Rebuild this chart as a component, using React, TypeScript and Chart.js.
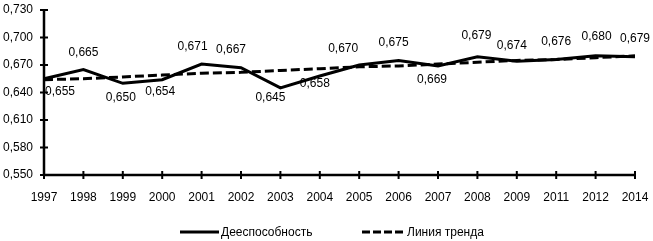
import React, { useEffect, useRef } from "react";
import { Chart, registerables } from "chart.js";

Chart.register(...registerables);

const years = ["1997", "1998", "1999", "2000", "2001", "2002", "2003", "2004", "2005", "2006", "2007", "2008", "2009", "2011", "2012", "2014"];
const capacity = [0.655, 0.665, 0.650, 0.654, 0.671, 0.667, 0.645, 0.658, 0.670, 0.675, 0.669, 0.679, 0.674, 0.676, 0.680, 0.679];
const trend = [0.654, 0.655, 0.657, 0.659, 0.661, 0.662, 0.664, 0.666, 0.668, 0.669, 0.671, 0.673, 0.675, 0.676, 0.678, 0.680];
const yTicks = [0.55, 0.58, 0.61, 0.64, 0.67, 0.70, 0.73];
const seriesNames = ["Дееспособность", "Линия тренда"];

// label offsets (style only): [dx, dy] relative to point
const labelOffsets: [number, number][] = [
  [16, 13], [0, -17], [-2, 14], [-2, 12], [-9, -17], [-10, -18], [-10, 10], [-5, 8],
  [-16, -16], [-5, -18], [-6, 14], [-1, -21], [-5, -16], [0, -18], [1, -19], [0, -18],
];

const FONT = "'Liberation Sans', Arial, sans-serif";
const fmt = (v: number) => v.toFixed(3).replace(".", ",");

const axesPlugin = {
  id: "axesCross",
  afterDatasetsDraw(chart: any) {
    const ctx = chart.ctx;
    const { left, right, top, bottom } = chart.chartArea;
    const xs = chart.scales.x;
    const ys = chart.scales.y;
    ctx.save();
    ctx.strokeStyle = "#000";
    ctx.lineWidth = 2.5;
    ctx.beginPath();
    ctx.moveTo(left, top);
    ctx.lineTo(left, bottom);
    ctx.moveTo(left, bottom);
    ctx.lineTo(right, bottom);
    ctx.stroke();
    ctx.lineWidth = 2;
    ctx.beginPath();
    ys.ticks.forEach((_t: any, i: number) => {
      const y = ys.getPixelForTick(i);
      ctx.moveTo(left - 4, y);
      ctx.lineTo(left + 4, y);
    });
    xs.ticks.forEach((_t: any, i: number) => {
      const x = xs.getPixelForTick(i);
      ctx.moveTo(x, bottom - 4);
      ctx.lineTo(x, bottom + 4);
    });
    ctx.stroke();

    // data labels
    const meta = chart.getDatasetMeta(0);
    ctx.fillStyle = "#000";
    ctx.font = `12px ${FONT}`;
    ctx.textAlign = "center";
    ctx.textBaseline = "middle";
    meta.data.forEach((pt: any, i: number) => {
      const [dx, dy] = labelOffsets[i] || [0, -16];
      ctx.fillText(fmt(capacity[i]), pt.x + dx, pt.y + dy);
    });

    // legend
    const ly = 232;
    ctx.lineWidth = 3;
    ctx.strokeStyle = "#000";
    ctx.beginPath();
    ctx.setLineDash([]);
    ctx.moveTo(180, ly);
    ctx.lineTo(219, ly);
    ctx.stroke();
    ctx.beginPath();
    ctx.setLineDash([8, 3]);
    ctx.moveTo(362, ly);
    ctx.lineTo(405, ly);
    ctx.stroke();
    ctx.setLineDash([]);
    ctx.textAlign = "left";
    ctx.fillText(seriesNames[0], 221, ly + 1);
    ctx.fillText(seriesNames[1], 407, ly + 1);
    ctx.restore();
  },
};

export default function App() {
  const ref = useRef<HTMLCanvasElement>(null);
  useEffect(() => {
    if (!ref.current) return;
    const chart = new Chart(ref.current, {
      type: "line",
      data: {
        labels: years,
        datasets: [
          {
            label: seriesNames[0],
            data: capacity,
            borderColor: "#000",
            borderWidth: 3,
            pointRadius: 0,
            tension: 0,
            fill: false,
          },
          {
            label: seriesNames[1],
            data: trend,
            borderColor: "#000",
            borderWidth: 3,
            borderDash: [9, 4],
            pointRadius: 0,
            tension: 0,
            fill: false,
          },
        ],
      },
      options: {
        responsive: false,
        animation: false,
        devicePixelRatio: 1,
        layout: { padding: { left: 0, right: 18, top: 10, bottom: 36 } },
        plugins: { legend: { display: false }, tooltip: { enabled: false } },
        scales: {
          x: {
            type: "category",
            offset: false,
            grid: { display: false, drawTicks: false },
            border: { display: false },
            ticks: {
              color: "#000",
              font: { family: FONT, size: 12 },
              padding: 15,
              maxRotation: 0,
              autoSkip: false,
            },
            afterFit: (s: any) => {
              s.height = 30;
              s.paddingLeft = 0;
              s.paddingRight = 0;
            },
          },
          y: {
            min: 0.55,
            max: 0.73,
            afterBuildTicks: (s: any) => { s.ticks = yTicks.map((v) => ({ value: v })); },
            grid: { display: false, drawTicks: false },
            border: { display: false },
            ticks: {
              color: "#000",
              font: { family: FONT, size: 12 },
              padding: 11,
              callback: (v: any) => fmt(Number(v)),
            },
            afterFit: (s: any) => {
              s.width = 44;
              s.paddingTop = 0;
              s.paddingBottom = 0;
            },
          },
        },
      },
      plugins: [axesPlugin],
    });
    return () => chart.destroy();
  }, []);
  return (
    <div style={{ position: "absolute", left: 0, top: 0, width: 653, height: 241, background: "#fff" }}>
      <canvas ref={ref} width={653} height={241} />
    </div>
  );
}
